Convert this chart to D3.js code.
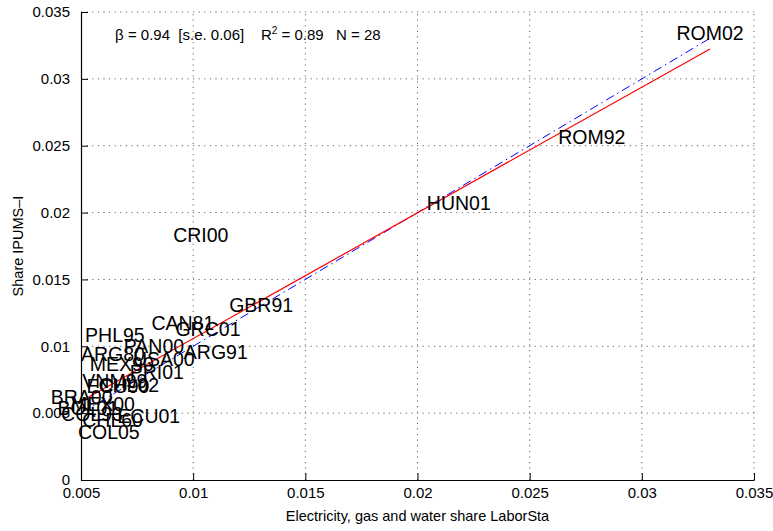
<!DOCTYPE html>
<html>
<head>
<meta charset="utf-8">
<script src="https://cdn.jsdelivr.net/npm/d3@7"></script>
<style>
  html, body { margin: 0; padding: 0; background: #fff; }
  svg { display: block; font-family: "Liberation Sans", Arial, Helvetica, sans-serif; }
</style>
</head>
<body>
<svg id="chart" width="773" height="531"></svg>
<script>
// Country-year samples: LaborSta share (x) vs IPUMS-I share (y)
const labels = ["ROM02","ROM92","HUN01","CRI00","GBR91","CAN81","GRC01","PHL95",
  "ARG80","PAN00","ARG91","MEX90","USA00","PRI01","VNM99","CHL02","ECU90",
  "BRA00","MEX00","BOL01","COL93","ECU01","CHL60","COL05"];
const xVals = [0.03304,0.02777,0.02184,0.01034,0.01303,0.00954,0.01066,0.00651,
  0.00642,0.00825,0.01101,0.00682,0.00869,0.00838,0.00651,0.00713,0.00665,
  0.00503,0.00598,0.00531,0.00549,0.00802,0.00641,0.00624];
const yVals = [0.03341,0.02563,0.02074,0.01829,0.01312,0.01177,0.01129,0.01087,
  0.00945,0.01001,0.00957,0.00867,0.00904,0.00811,0.00740,0.00710,0.00703,
  0.00624,0.00568,0.00538,0.00493,0.00478,0.00448,0.00362];

// Regression summary
const beta = 0.94, betaSE = 0.06, r2 = 0.89, nObs = 28;
const intercept = 0.00118;

const xTicks = [0.005,0.01,0.015,0.02,0.025,0.03,0.035];
const yTicks = [0,0.005,0.01,0.015,0.02,0.025,0.03,0.035];

const W = 773, H = 531;
const margin = {left: 81, right: 19, top: 12, bottom: 51};
const svg = d3.select("#chart");

const x = d3.scaleLinear().domain([0.005, 0.035]).range([margin.left, W - margin.right]);
const y = d3.scaleLinear().domain([0, 0.035]).range([H - margin.bottom, margin.top]);

const fmt = d => d === 0 ? "0" : String(+d.toFixed(3));

// Dotted grid
const grid = svg.append("g");
grid.selectAll(".gx").data(xTicks.slice(1)).join("line")
  .attr("x1", d => x(d)).attr("x2", d => x(d))
  .attr("y1", y(0)).attr("y2", y(0.035))
  .attr("stroke", "#666").attr("stroke-width", 1)
  .attr("stroke-dasharray", "1.2,4.4");
grid.selectAll(".gy").data(yTicks.slice(1)).join("line")
  .attr("x1", x(0.005)).attr("x2", x(0.035))
  .attr("y1", d => y(d)).attr("y2", d => y(d))
  .attr("stroke", "#666").attr("stroke-width", 1)
  .attr("stroke-dasharray", "1.2,4.4");

// Axes with inward ticks
const xAxis = d3.axisBottom(x).tickValues(xTicks).tickFormat(fmt).tickSizeInner(-7).tickSizeOuter(0).tickPadding(11);
const yAxis = d3.axisLeft(y).tickValues(yTicks).tickFormat(fmt).tickSizeInner(-7).tickSizeOuter(0).tickPadding(11);

const gx = svg.append("g").attr("transform", `translate(0,${y(0)})`).call(xAxis);
const gy = svg.append("g").attr("transform", `translate(${x(0.005)},0)`).call(yAxis);
[gx, gy].forEach(g => {
  g.select(".domain").attr("stroke", "#000").attr("stroke-width", 1.2);
  g.selectAll(".tick line").attr("stroke", "#000").attr("stroke-width", 1);
  g.selectAll(".tick text").attr("fill", "#000").style("font-size", "15px")
    .style("font-family", "Liberation Sans, Arial, sans-serif");
});
gx.selectAll(".tick text").attr("dy", "0.45em");

// Axis titles
svg.append("text")
  .attr("x", (x(0.005) + x(0.035)) / 2).attr("y", H - 10)
  .attr("text-anchor", "middle").style("font-size", "14.5px")
  .text("Electricity, gas and water share LaborSta");
svg.append("text")
  .attr("transform", `translate(23,${(y(0) + y(0.035)) / 2}) rotate(-90)`)
  .attr("text-anchor", "middle").style("font-size", "14.5px")
  .text("Share IPUMS\u2013I");

const xMin = d3.min(xVals), xMax = d3.max(xVals);

// 45-degree reference line
svg.append("line")
  .attr("x1", x(xMin)).attr("y1", y(xMin))
  .attr("x2", x(xMax)).attr("y2", y(xMax))
  .attr("stroke", "#0000ff").attr("stroke-width", 1)
  .attr("stroke-dasharray", "9,4,1.5,4");

// Fitted regression line
svg.append("line")
  .attr("x1", x(xMin)).attr("y1", y(intercept + beta * xMin))
  .attr("x2", x(xMax)).attr("y2", y(intercept + beta * xMax))
  .attr("stroke", "#ff0000").attr("stroke-width", 1.2);

// Sample labels at each point
svg.append("g").selectAll("text").data(labels).join("text")
  .attr("x", (d, i) => x(xVals[i]))
  .attr("y", (d, i) => y(yVals[i]))
  .attr("dy", "0.36em")
  .attr("text-anchor", "middle")
  .style("font-size", "19.5px")
  .attr("fill", "#000")
  .text(d => d);

// Regression statistics
const stats = svg.append("text")
  .attr("x", x(0.00652)).attr("y", y(0.0329))
  .style("font-size", "15px").attr("fill", "#000")
  .attr("xml:space", "preserve");
stats.append("tspan").text(`\u03b2 = ${beta.toFixed(2)}  [s.e. ${betaSE.toFixed(2)}]    R`);
stats.append("tspan").attr("dy", -6).style("font-size", "10px").text("2");
stats.append("tspan").attr("dy", 6).text(` = ${r2.toFixed(2)}   N = ${nObs}`);
</script>
</body>
</html>
